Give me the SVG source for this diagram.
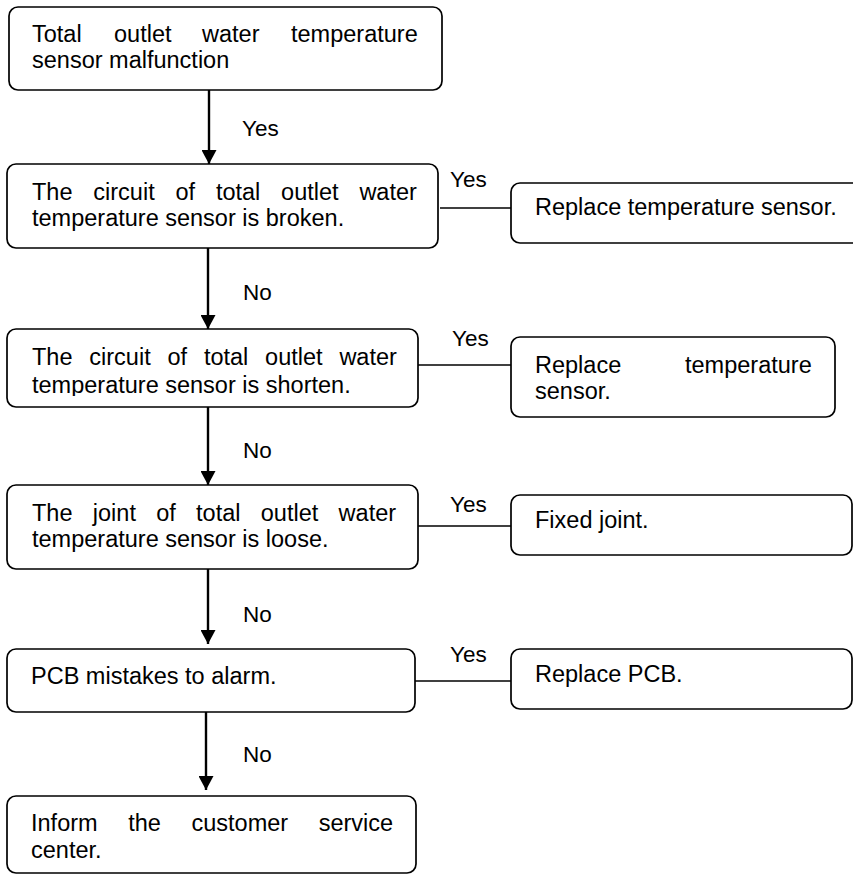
<svg xmlns="http://www.w3.org/2000/svg" width="853" height="875" viewBox="0 0 853 875">
  <style>
    .box { fill: #ffffff; stroke: #000000; stroke-width: 1.7; }
    .t { font-family: "Liberation Sans", Arial, sans-serif; font-size: 23.5px; fill: #000000; }
    .lbl { font-family: "Liberation Sans", Arial, sans-serif; font-size: 22.5px; fill: #000000; }
    .arrow { stroke: #000000; stroke-width: 2.4; fill: none; marker-end: url(#ah); }
    .link { stroke: #000000; stroke-width: 1.4; fill: none; }
  </style>
  <defs>
    <marker id="ah" markerUnits="userSpaceOnUse" markerWidth="15" markerHeight="15" refX="14" refY="7.5" orient="auto">
      <path d="M0,0 L14,7.5 L0,15 z" fill="#000000"/>
    </marker>
    <clipPath id="clip3">
      <rect x="0" y="320" width="450" height="76"/>
    </clipPath>
  </defs>
  <rect width="853" height="875" fill="#ffffff"/>

  <g id="connectors">
    <line class="arrow" x1="209" y1="90" x2="209" y2="164"/>
    <line class="arrow" x1="208" y1="248" x2="208" y2="329"/>
    <line class="arrow" x1="208" y1="407" x2="208" y2="485"/>
    <line class="arrow" x1="208" y1="568" x2="208" y2="644"/>
    <line class="arrow" x1="206" y1="712" x2="206" y2="790"/>
    <line class="link" x1="440" y1="208" x2="511" y2="208"/>
    <line class="link" x1="418" y1="365" x2="511" y2="365"/>
    <line class="link" x1="418" y1="526" x2="511" y2="526"/>
    <line class="link" x1="415" y1="681" x2="511" y2="681"/>
    <text class="lbl" x="242" y="136">Yes</text>
    <text class="lbl" x="243" y="300">No</text>
    <text class="lbl" x="243" y="458">No</text>
    <text class="lbl" x="243" y="622">No</text>
    <text class="lbl" x="243" y="762">No</text>
    <text class="lbl" x="450" y="187">Yes</text>
    <text class="lbl" x="452" y="346">Yes</text>
    <text class="lbl" x="450" y="512">Yes</text>
    <text class="lbl" x="450" y="662">Yes</text>
  </g>

  <g id="n1">
    <rect class="box" x="9" y="7" width="433" height="83" rx="9"/>
    <text class="t" y="42"><tspan x="32">Total</tspan><tspan x="114">outlet</tspan><tspan x="202">water</tspan><tspan x="291">temperature</tspan></text>
    <text class="t" x="32" y="68">sensor malfunction</text>
  </g>

  <g id="n2">
    <rect class="box" x="7" y="164" width="431" height="84" rx="9"/>
    <text class="t" y="200"><tspan x="32">The</tspan><tspan x="93.3">circuit</tspan><tspan x="175.5">of</tspan><tspan x="215.9">total</tspan><tspan x="281.1">outlet</tspan><tspan x="359.4">water</tspan></text>
    <text class="t" x="32" y="226">temperature sensor is broken.</text>
  </g>

  <g id="n3">
    <rect class="box" x="7" y="329" width="411" height="78" rx="9"/>
    <text class="t" y="365"><tspan x="32">The</tspan><tspan x="89.3">circuit</tspan><tspan x="167.5">of</tspan><tspan x="203.9">total</tspan><tspan x="265.1">outlet</tspan><tspan x="339.4">water</tspan></text>
    <text class="t" x="32" y="393" clip-path="url(#clip3)">temperature sensor is shorten.</text>
  </g>

  <g id="n4">
    <rect class="box" x="7" y="485" width="411" height="84" rx="9"/>
    <text class="t" y="521"><tspan x="32">The</tspan><tspan x="92.8">joint</tspan><tspan x="156.2">of</tspan><tspan x="196.1">total</tspan><tspan x="260.8">outlet</tspan><tspan x="338.6">water</tspan></text>
    <text class="t" x="32" y="547">temperature sensor is loose.</text>
  </g>

  <g id="n5">
    <rect class="box" x="7" y="649" width="408" height="63" rx="9"/>
    <text class="t" x="31" y="684">PCB mistakes to alarm.</text>
  </g>

  <g id="n6">
    <rect class="box" x="7" y="796" width="409" height="77" rx="9"/>
    <text class="t" y="831"><tspan x="31">Inform</tspan><tspan x="128.2">the</tspan><tspan x="191.5">customer</tspan><tspan x="318.7">service</tspan></text>
    <text class="t" x="31" y="858">center.</text>
  </g>

  <g id="r1">
    <rect class="box" x="511" y="183" width="360" height="60" rx="9"/>
    <text class="t" x="535" y="215">Replace temperature sensor.</text>
  </g>

  <g id="r2">
    <rect class="box" x="511" y="337" width="324" height="80" rx="9"/>
    <text class="t" y="373"><tspan x="535">Replace</tspan><tspan x="685">temperature</tspan></text>
    <text class="t" x="535" y="399">sensor.</text>
  </g>

  <g id="r3">
    <rect class="box" x="511" y="495" width="341" height="60" rx="9"/>
    <text class="t" x="535" y="528">Fixed joint.</text>
  </g>

  <g id="r4">
    <rect class="box" x="511" y="649" width="341" height="60" rx="9"/>
    <text class="t" x="535" y="682">Replace PCB.</text>
  </g>
</svg>
